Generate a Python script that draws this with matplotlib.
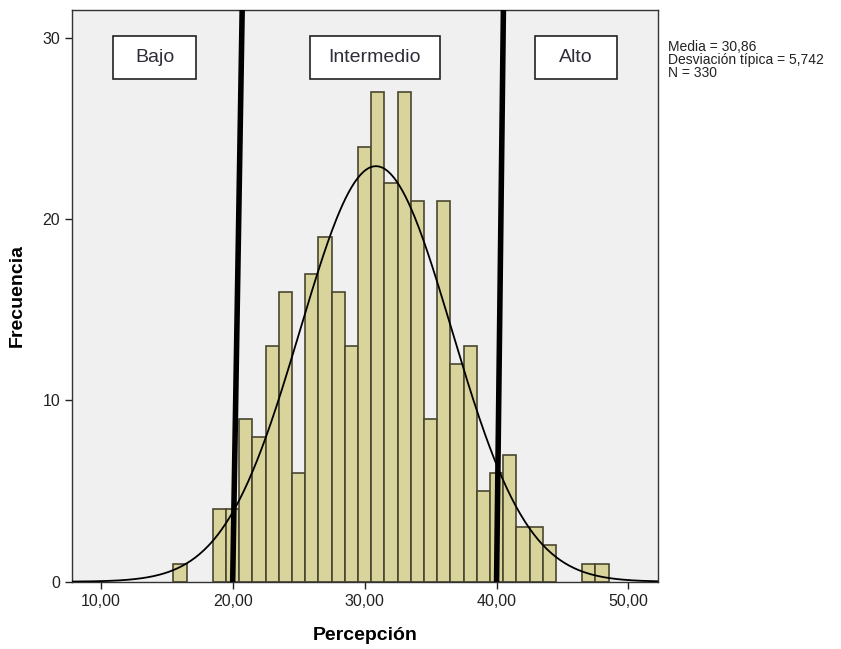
import numpy as np
import matplotlib
matplotlib.use("Agg")
import matplotlib.pyplot as plt
from matplotlib.patches import Rectangle

# histogram counts (bins of width 1 centred on integers)
valores = [16, 19, 20, 21, 22, 23, 24, 25, 26, 27, 28, 29, 30, 31, 32, 33,
           34, 35, 36, 37, 38, 39, 40, 41, 42, 43, 44, 47, 48]
frecuencias = [1, 4, 4, 9, 8, 13, 16, 6, 17, 19, 16, 13, 24, 27, 22, 27,
               21, 9, 21, 12, 13, 5, 6, 7, 3, 3, 2, 1, 1]

media = 30.86
desv = 5.742
n = 330

xticks = [10, 20, 30, 40, 50]
xtick_labels = ["10,00", "20,00", "30,00", "40,00", "50,00"]
yticks = [0, 10, 20, 30]

zonas = ["Bajo", "Intermedio", "Alto"]

plt.rcParams['font.family'] = ['Liberation Sans', 'DejaVu Sans']

fig = plt.figure(figsize=(8.41, 6.49), dpi=100)
ax = fig.add_axes([0.0856, 0.1037, 0.697, 0.881])
ax.set_facecolor("#f0f0f0")

ax.bar(valores, frecuencias, width=1.0, color="#d9d49b", edgecolor="#4a4630",
       linewidth=1.2, zorder=2)

# normal curve from the summary statistics
xs = np.linspace(7.8, 52.3, 400)
ys = n * 1.0 / (desv * np.sqrt(2 * np.pi)) * np.exp(-0.5 * ((xs - media) / desv) ** 2)
ax.plot(xs, ys, color="black", linewidth=1.3, zorder=3)

# cut lines (slightly slanted as in the original)
ax.plot([20.0, 20.72], [0, 31.6], color="black", linewidth=4, zorder=4)
ax.plot([40.0, 40.52], [0, 31.6], color="black", linewidth=4, zorder=4)

# label boxes
cajas = [(10.95, 17.25), (25.85, 35.7), (42.9, 49.1)]
for nombre, (x0, x1) in zip(zonas, cajas):
    ax.add_patch(Rectangle((x0, 27.75), x1 - x0, 2.37, facecolor="white",
                           edgecolor="#222222", linewidth=1.2, zorder=5))
    ax.text((x0 + x1) / 2, 28.93, nombre, ha="center", va="center",
            fontsize=14, color="#2e2e3a", zorder=6)

ax.set_xlim(7.82, 52.25)
ax.set_ylim(0, 31.55)
ax.set_xticks(xticks)
ax.set_xticklabels(xtick_labels)
ax.set_yticks(yticks)
ax.tick_params(axis="both", direction="out", length=5, width=1, labelsize=11.5,
               colors="#222222")

for s in ax.spines.values():
    s.set_color("#333333")
    s.set_linewidth(1.0)

ax.set_xlabel("Percepción", fontsize=14, fontweight="bold", labelpad=13)
ax.set_ylabel("Frecuencia", fontsize=14, fontweight="bold", labelpad=12)

fig.text(0.794, 0.939, "Media = 30,86\nDesviación típica = 5,742\nN = 330",
         fontsize=10, va="top", ha="left", linespacing=0.95, color="#222222")

fig.savefig("out.png", dpi=100)
